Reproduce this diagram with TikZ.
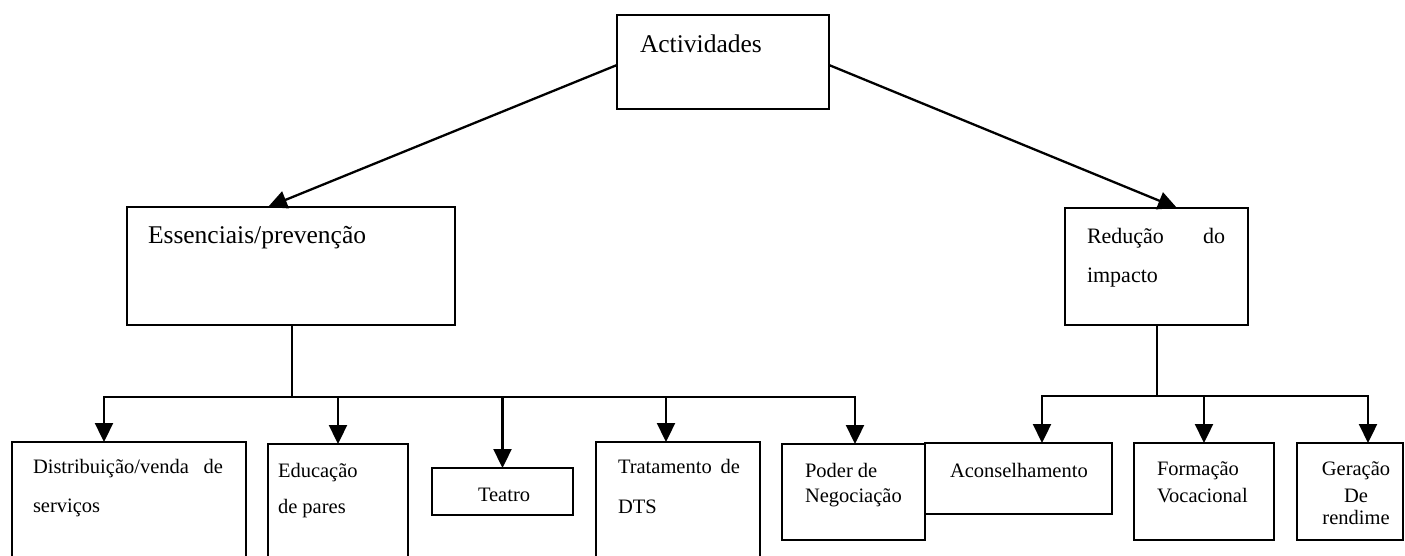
\documentclass[tikz,border=0pt]{standalone}
\usepackage{fontspec}
\setmainfont{Liberation Serif}
\usetikzlibrary{arrows.meta,calc}
\begin{document}
\begin{tikzpicture}[x=1pt,y=-1pt,
  box/.style={draw, line width=2.4pt, rectangle, inner sep=0pt, outer sep=0pt, anchor=north west},
  lbl/.style={inner sep=0pt, outer sep=0pt, anchor=base west},
  lblc/.style={inner sep=0pt, outer sep=0pt, anchor=base},
  lble/.style={inner sep=0pt, outer sep=0pt, anchor=base east},
  fbig/.style={font=\fontsize{25.5pt}{27pt}\selectfont},
  fmid/.style={font=\fontsize{22pt}{24pt}\selectfont},
  fsml/.style={font=\fontsize{20.5pt}{22pt}\selectfont},
  conn/.style={line width=2.3pt, -{Triangle[length=19pt,width=18pt]}},
  stem/.style={line width=2pt}]
\useasboundingbox (0,0) rectangle (1405,555);
\fill[white] (0,0) rectangle (1405,555);
\begin{scope}
\clip (0,0) rectangle (1405,555);
% boxes
\node[box, minimum width=212pt, minimum height=94pt] (act) at (617,15) {};
\node[box, minimum width=328pt, minimum height=118pt] (ess) at (127,207) {};
\node[box, minimum width=183pt, minimum height=117pt] (red) at (1065,208) {};
\node[box, minimum width=234pt, minimum height=130pt] (dist) at (12,442) {};
\node[box, minimum width=140pt, minimum height=130pt] (edu) at (268,444) {};
\node[box, minimum width=141pt, minimum height=47pt] (tea) at (432,468) {};
\node[box, minimum width=164pt, minimum height=130pt] (tra) at (596,442) {};
\node[box, minimum width=143pt, minimum height=96pt] (pod) at (782,444) {};
\node[box, minimum width=187pt, minimum height=71pt] (aco) at (925,443) {};
\node[box, minimum width=140pt, minimum height=97pt] (for) at (1134,443) {};
\node[box, minimum width=106pt, minimum height=97pt] (ger) at (1297,443) {};
% labels
\node[lbl, fbig] (tact) at (640,52) {Actividades};
\node[lbl, fbig] (tess) at (148,243) {Essenciais/prevenção};
\node[lbl, fmid] (tred1) at (1087,243) {Redução};
\node[lbl, fmid] (tred2) at (1203,243) {do};
\node[lbl, fmid] (tred3) at (1087,282) {impacto};
\node[lbl, fsml] (tdist1) at (33,473) {Distribuição/venda};
\node[lble, fsml] (tdist2) at (223,473) {de};
\node[lbl, fsml] (tdist3) at (33,512) {serviços};
\node[lbl, fsml] (tedu1) at (278,477) {Educação};
\node[lbl, fsml] (tedu2) at (278,513) {de pares};
\node[lbl, fsml] (ttea) at (478,501) {Teatro};
\node[lbl, fsml] (ttra1) at (618,473) {Tratamento};
\node[lble, fsml] (ttra2) at (740,473) {de};
\node[lbl, fsml] (ttra3) at (618,513) {DTS};
\node[lbl, fsml] (tpod1) at (805,477) {Poder de};
\node[lbl, fsml] (tpod2) at (805,502) {Negociação};
\node[lbl, fsml] (taco) at (950,477) {Aconselhamento};
\node[lbl, fsml] (tfor1) at (1157,475) {Formação};
\node[lbl, fsml] (tfor2) at (1157,502) {Vocacional};
\node[lblc, fsml] (tger1) at (1356,475) {Geração};
\node[lblc, fsml] (tger2) at (1356,502) {De};
\node[lblc, fsml] (tger3) at (1356,524) {rendime};
% top connectors
\draw[conn] ($(act.north west)+(0,50)$) -- ($(ess.north west)+(141,0)$);
\draw[conn] ($(act.north east)+(0,50)$) -- ($(red.north west)+(112,0)$);
% left tree
\coordinate (jE) at ($(ess.south west)+(165,72)$);
\draw[stem] ($(ess.south west)+(165,0)$) -- (jE);
\draw[conn] (jE) -| ($(dist.north west)+(92,0)$);
\draw[conn] (jE) -| (edu.north);
\draw[conn] (jE) -| (tea.north);
\draw[conn] (jE) -| ($(tra.north west)+(70,0)$);
\draw[conn] (jE) -| ($(pod.north west)+(73,0)$);
% right tree
\coordinate (jR) at ($(red.south)+(0,71)$);
\draw[stem] (red.south) -- (jR);
\draw[conn] (jR) -| ($(aco.north west)+(117,0)$);
\draw[conn] (jR) -| (for.north);
\draw[conn] (jR) -| ($(ger.north west)+(71,0)$);
\end{scope}
\end{tikzpicture}
\end{document}
